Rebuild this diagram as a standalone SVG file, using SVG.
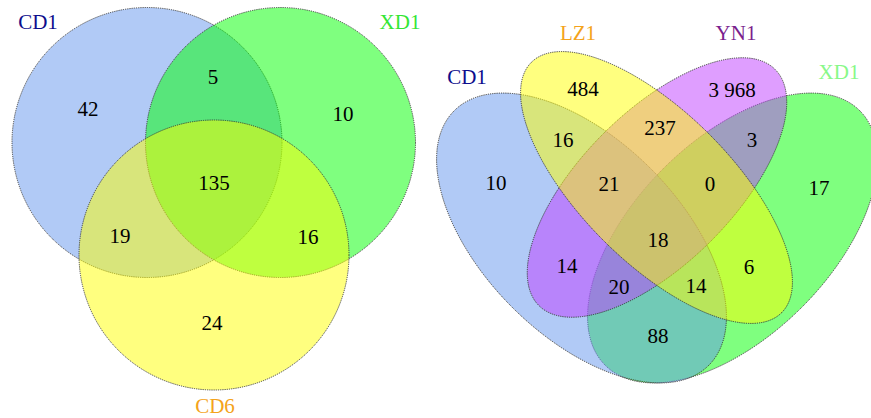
<svg xmlns="http://www.w3.org/2000/svg" width="871" height="418" viewBox="0 0 871 418">
<style>
.s{stroke:#333;stroke-width:0.9;stroke-dasharray:1.2 1}
.t{font-family:"Liberation Serif","Times New Roman",serif;font-size:21px;text-anchor:middle}
.n{fill:#000}
</style>
<rect width="871" height="418" fill="#fff"/>
<g id="venn3">
  <g id="v3-CD1">
    <circle class="s" cx="147" cy="142.5" r="135" fill="#6495ED" fill-opacity="0.5"/>
    <text class="t" x="38" y="29" fill="#0d0d8c">CD1</text>
  </g>
  <g id="v3-XD1">
    <circle class="s" cx="280.5" cy="142.5" r="135" fill="#00FF00" fill-opacity="0.5"/>
    <text class="t" x="400" y="29" fill="#33E633">XD1</text>
  </g>
  <g id="v3-CD6">
    <circle class="s" cx="214" cy="255" r="135" fill="#FFFF00" fill-opacity="0.5"/>
    <text class="t" x="215" y="413" fill="#F4A31B">CD6</text>
  </g>
  <g id="v3-counts" class="t n">
    <text x="88" y="116">42</text>
    <text x="213" y="84">5</text>
    <text x="343" y="121">10</text>
    <text x="214" y="190">135</text>
    <text x="120" y="243">19</text>
    <text x="308" y="244">16</text>
    <text x="212" y="330">24</text>
  </g>
</g>
<g id="venn4">
  <g id="v4-XD1">
    <ellipse class="s" cx="732.5" cy="238" rx="180" ry="98" transform="rotate(-45 732.5 238)" fill="#00FF00" fill-opacity="0.5"/>
    <text class="t" x="839" y="79" fill="#88F888">XD1</text>
  </g>
  <g id="v4-CD1">
    <ellipse class="s" cx="581.5" cy="238" rx="180" ry="98" transform="rotate(45 581.5 238)" fill="#6495ED" fill-opacity="0.5"/>
    <text class="t" x="467" y="84" fill="#0d0d8c">CD1</text>
  </g>
  <g id="v4-YN1">
    <ellipse class="s" cx="657" cy="187.5" rx="167" ry="76" transform="rotate(-45 657 187.5)" fill="#BF3EFF" fill-opacity="0.5"/>
    <text class="t" x="736" y="40" fill="#7B1F8E">YN1</text>
  </g>
  <g id="v4-LZ1">
    <ellipse class="s" cx="656.5" cy="187.5" rx="177" ry="75" transform="rotate(45 656.5 187.5)" fill="#FFFF00" fill-opacity="0.5"/>
    <text class="t" x="578" y="40" fill="#F4A31B">LZ1</text>
  </g>
  <g id="v4-counts" class="t n">
    <text x="583" y="96">484</text>
    <text x="732" y="97">3 968</text>
    <text x="563" y="147">16</text>
    <text x="660" y="135">237</text>
    <text x="752" y="147">3</text>
    <text x="496" y="190">10</text>
    <text x="609" y="191">21</text>
    <text x="710" y="191">0</text>
    <text x="819" y="195">17</text>
    <text x="658" y="247">18</text>
    <text x="567" y="273">14</text>
    <text x="749" y="274">6</text>
    <text x="619" y="294">20</text>
    <text x="696" y="293">14</text>
    <text x="658" y="343">88</text>
  </g>
</g>
</svg>
